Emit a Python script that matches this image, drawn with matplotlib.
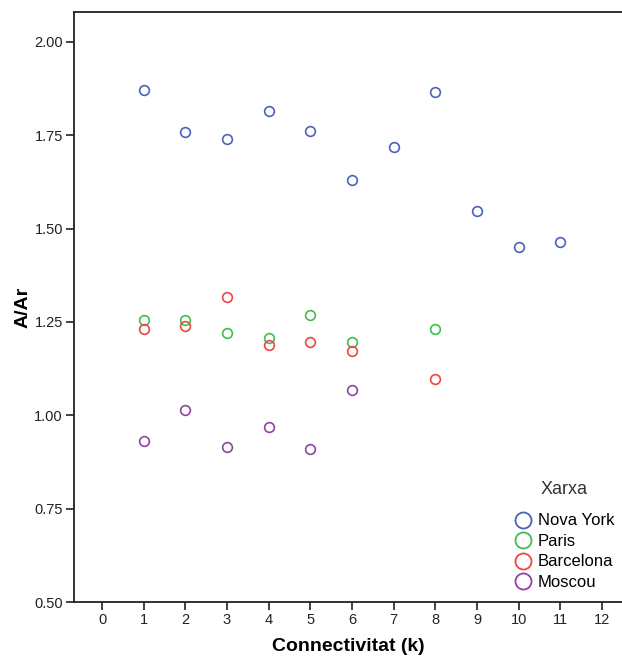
import matplotlib.pyplot as plt

plt.rcParams['font.family'] = ['Liberation Sans', 'DejaVu Sans']

# Connectivitat (k) vs A/Ar per xarxa
k_ny = [1, 2, 3, 4, 5, 6, 7, 8, 9, 10, 11]
ny = [1.870, 1.759, 1.741, 1.815, 1.761, 1.630, 1.719, 1.866, 1.548, 1.451, 1.464]

k_paris = [1, 2, 3, 4, 5, 6, 8]
paris = [1.256, 1.254, 1.220, 1.207, 1.269, 1.195, 1.231]

k_bcn = [1, 2, 3, 4, 5, 6, 8]
bcn = [1.230, 1.239, 1.318, 1.189, 1.197, 1.173, 1.097]

k_msc = [1, 2, 3, 4, 5, 6]
msc = [0.930, 1.015, 0.916, 0.970, 0.911, 1.068]

series = [
    ('Nova York', k_ny, ny, '#4a62bd'),
    ('Paris', k_paris, paris, '#3cbf50'),
    ('Barcelona', k_bcn, bcn, '#ee4545'),
    ('Moscou', k_msc, msc, '#8e44a0'),
]

fig = plt.figure(figsize=(6.22, 6.57), dpi=100)
ax = fig.add_axes([0.119, 0.0837, 0.881, 0.898])

for label, xs, ys, color in series:
    ax.plot(xs, ys, linestyle='none', marker='o', markersize=7,
            markerfacecolor='none', markeredgecolor=color,
            markeredgewidth=1.2, label=label)

ax.set_xlim(-0.672, 12.48)
ax.set_ylim(0.5, 2.08)
ax.set_xticks(range(0, 13))
ax.set_yticks([0.5, 0.75, 1.0, 1.25, 1.5, 1.75, 2.0])
ax.set_yticklabels(['0.50', '0.75', '1.00', '1.25', '1.50', '1.75', '2.00'])
ax.tick_params(direction='out', length=6, width=1.2, labelsize=10.5,
               colors='#222222', pad=2)

for side in ['left', 'bottom', 'top']:
    ax.spines[side].set_linewidth(1.3)
    ax.spines[side].set_color('#222222')
ax.spines['right'].set_visible(False)

ax.set_xlabel('Connectivitat (k)', fontsize=14, fontweight='bold', labelpad=7.5)
ax.set_ylabel('A/Ar', fontsize=14, fontweight='bold', labelpad=2)

leg = ax.legend(title='Xarxa', loc='lower left', bbox_to_anchor=(0.828, 0.102),
                bbox_transform=fig.transFigure, frameon=False, fontsize=12,
                title_fontsize=13, markerscale=1.65, handletextpad=0.35,
                handlelength=1.0, labelspacing=0.33, borderpad=0, borderaxespad=0)
leg._legend_box.sep = 11
for h in leg.legend_handles:
    h.set_markeredgewidth(1.3)
leg.get_title().set_color('#333333')

fig.savefig('out.png', dpi=100)
